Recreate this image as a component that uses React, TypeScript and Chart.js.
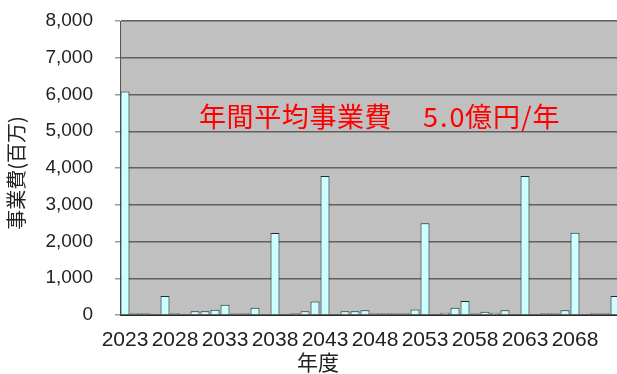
import { useEffect, useRef } from "react";
import { Chart, registerables } from "chart.js";

Chart.register(...registerables);

// 年度 (2023–2072)
const years: string[] = [
  "2023", "2024", "2025", "2026", "2027", "2028", "2029", "2030", "2031", "2032",
  "2033", "2034", "2035", "2036", "2037", "2038", "2039", "2040", "2041", "2042",
  "2043", "2044", "2045", "2046", "2047", "2048", "2049", "2050", "2051", "2052",
  "2053", "2054", "2055", "2056", "2057", "2058", "2059", "2060", "2061", "2062",
  "2063", "2064", "2065", "2066", "2067", "2068", "2069", "2070", "2071", "2072",
];

// 事業費 (百万円)
const costs: number[] = [
  6080, 50, 50, 0, 520, 50, 0, 100, 100, 140,
  280, 40, 50, 200, 0, 2230, 0, 50, 100, 370,
  3780, 0, 100, 100, 130, 50, 50, 50, 50, 150,
  2500, 0, 60, 200, 380, 40, 90, 60, 130, 0,
  3780, 0, 50, 50, 130, 2240, 0, 50, 50, 520,
];

const yMin = 0;
const yMax = 8000;
const yStep = 1000;

const yAxisTitle = "事業費(百万)";
const xAxisTitle = "年度";
// 注記: 見出し・金額・単位
const noteParts: string[] = ["年間平均事業費", "5.0", "億円/年"];

const CJK = '"Noto Sans CJK JP", "Noto Sans", sans-serif';
const LATIN = '"Liberation Sans", Arial, sans-serif';

const plotDecor = {
  id: "plotDecor",
  beforeDraw(chart: Chart) {
    const { ctx, chartArea } = chart;
    ctx.save();
    ctx.fillStyle = "#c0c0c0";
    ctx.fillRect(chartArea.left, chartArea.top, chartArea.right - chartArea.left, chartArea.bottom - chartArea.top);
    ctx.restore();
  },
  afterDraw(chart: Chart) {
    const { ctx } = chart;
    ctx.save();
    // 平均事業費の注記
    ctx.fillStyle = "#ff0000";
    ctx.font = `27px ${CJK}`;
    ctx.textAlign = "left";
    ctx.textBaseline = "middle";
    (ctx as any).letterSpacing = "0.6px";
    ctx.fillText(noteParts[0], 199, 117);
    (ctx as any).letterSpacing = "2px";
    ctx.fillText(noteParts[1], 423, 117);
    (ctx as any).letterSpacing = "1px";
    ctx.fillText(noteParts[2], 465, 117);
    (ctx as any).letterSpacing = "0px";

    // 縦軸タイトル
    ctx.fillStyle = "#222222";
    ctx.font = `20px ${CJK}`;
    ctx.translate(16, 173);
    ctx.rotate(-Math.PI / 2);
    ctx.textAlign = "center";
    ctx.textBaseline = "middle";
    ctx.fillText(yAxisTitle, 0, 0);
    ctx.restore();

    // 横軸タイトル
    ctx.save();
    ctx.fillStyle = "#222222";
    ctx.font = `21px ${CJK}`;
    ctx.textAlign = "center";
    ctx.textBaseline = "middle";
    ctx.fillText(xAxisTitle, 318, 362);
    ctx.restore();
  },
};

export default function App() {
  const canvasRef = useRef<HTMLCanvasElement | null>(null);

  useEffect(() => {
    const canvas = canvasRef.current;
    if (!canvas) return;
    const chart = new Chart(canvas, {
      type: "bar",
      data: {
        labels: years,
        datasets: [
          {
            data: costs,
            backgroundColor: "#ccffff",
            borderColor: "#1c2a2a",
            borderWidth: 1,
            barPercentage: 0.9,
            categoryPercentage: 1,
          },
        ],
      },
      options: {
        animation: false,
        responsive: false,
        devicePixelRatio: 1,
        layout: { padding: { left: 0, right: 0, top: 21, bottom: 0 } },
        plugins: {
          legend: { display: false },
          tooltip: { enabled: false },
        },
        scales: {
          x: {
            offset: true,
            grid: { display: false },
            border: { display: true, color: "#2a2a2a", width: 1 },
            ticks: {
              autoSkip: false,
              maxRotation: 0,
              minRotation: 0,
              padding: 5,
              color: "#222222",
              font: { family: LATIN, size: 21 },
              callback: (_v, i) => (i % 5 === 0 ? years[i] : ""),
            },
            afterFit: (s: any) => {
              s.height = 59;
            },
          },
          y: {
            min: yMin,
            max: yMax,
            ticks: {
              stepSize: yStep,
              padding: 22,
              color: "#222222",
              font: { family: LATIN, size: 19 },
              callback: (v) => Number(v).toLocaleString("en-US"),
            },
            grid: {
              color: "#606060",
              lineWidth: 1.5,
              tickLength: 5,
              tickColor: "#9a9a9a",
            },
            border: { display: true, color: "#555555", width: 1 },
            afterFit: (s: any) => {
              s.width = 120;
              s.paddingTop = 0;
              s.paddingBottom = 0;
            },
          },
        },
      },
      plugins: [plotDecor],
    });
    return () => chart.destroy();
  }, []);

  return (
    <div
      style={{
        position: "fixed",
        left: 0,
        top: 0,
        width: 617,
        height: 374,
        overflow: "hidden",
        background: "#ffffff",
      }}
    >
      <canvas ref={canvasRef} width={620} height={374} style={{ display: "block", width: 620, height: 374 }} />
    </div>
  );
}
